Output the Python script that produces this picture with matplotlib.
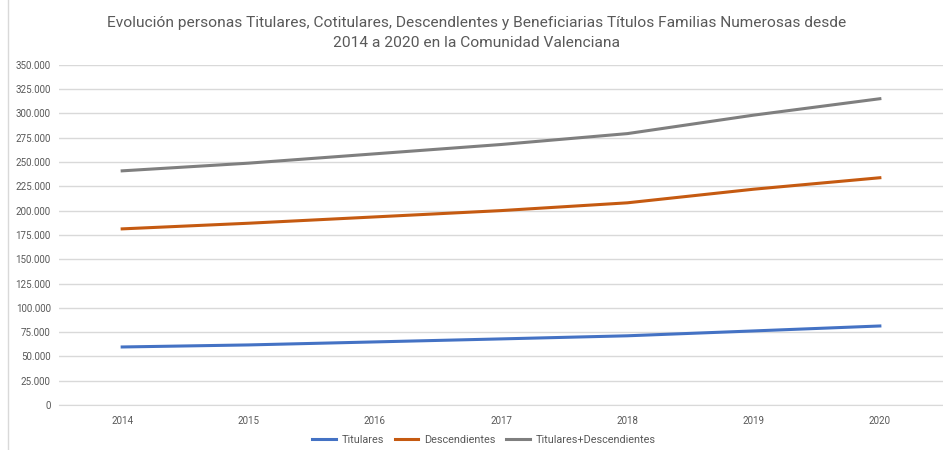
import matplotlib.pyplot as plt
from matplotlib.ticker import FuncFormatter
from matplotlib.lines import Line2D

# Datos
years = ['2014', '2015', '2016', '2017', '2018', '2019', '2020']
titulares = [59700, 61800, 64900, 68000, 71200, 76200, 81300]
descendientes = [181200, 187000, 193500, 200000, 208000, 222000, 233800]
total = [240900, 248800, 258400, 268000, 279200, 298200, 315100]

plt.rcParams['font.family'] = ['Roboto', 'DejaVu Sans']

fig = plt.figure(figsize=(9.43, 4.5), dpi=100)
ax = fig.add_axes([0.0626, 0.1, 0.9374, 0.756])

x = range(len(years))
ax.plot(x, titulares, color='#4472C4', lw=2.2, label='Titulares')
ax.plot(x, descendientes, color='#C55A11', lw=2.2, label='Descendientes')
ax.plot(x, total, color='#7F7F7F', lw=2.2, label='Titulares+Descendientes')

ax.set_xlim(-0.5, 6.5)
ax.set_ylim(0, 350000)
ax.set_yticks(range(0, 350001, 25000))
ax.yaxis.set_major_formatter(FuncFormatter(lambda v, p: f'{int(v):,}'.replace(',', '.')))
ax.set_xticks(list(x))
ax.set_xticklabels(years)
ax.grid(axis='y', color='#D9D9D9', lw=1)
ax.set_axisbelow(True)
for s in ['top', 'right', 'left']:
    ax.spines[s].set_visible(False)
ax.spines['bottom'].set_color('#D9D9D9')
ax.tick_params(length=0, labelsize=7, colors='#595959', pad=6)
ax.tick_params(axis='x', pad=8)

fig.suptitle('Evolución personas Titulares, Cotitulares, Descendlentes y Beneficiarias Títulos Familias Numerosas desde\n2014 a 2020 en la Comunidad Valenciana',
             x=0.505, y=0.964, fontsize=11.15, color='#595959', linespacing=1.55)

fig.legend(loc='lower center', bbox_to_anchor=(0.513, -0.01), ncol=3, frameon=False,
           fontsize=7.8, handlelength=2.2, columnspacing=1.0, handletextpad=0.5,
           labelcolor='#595959')

# borde del area del grafico
fig.add_artist(Line2D([8 / 943, 8 / 943], [0, 1], transform=fig.transFigure, color='#D9D9D9', lw=1))

fig.savefig('out.png', dpi=100)
